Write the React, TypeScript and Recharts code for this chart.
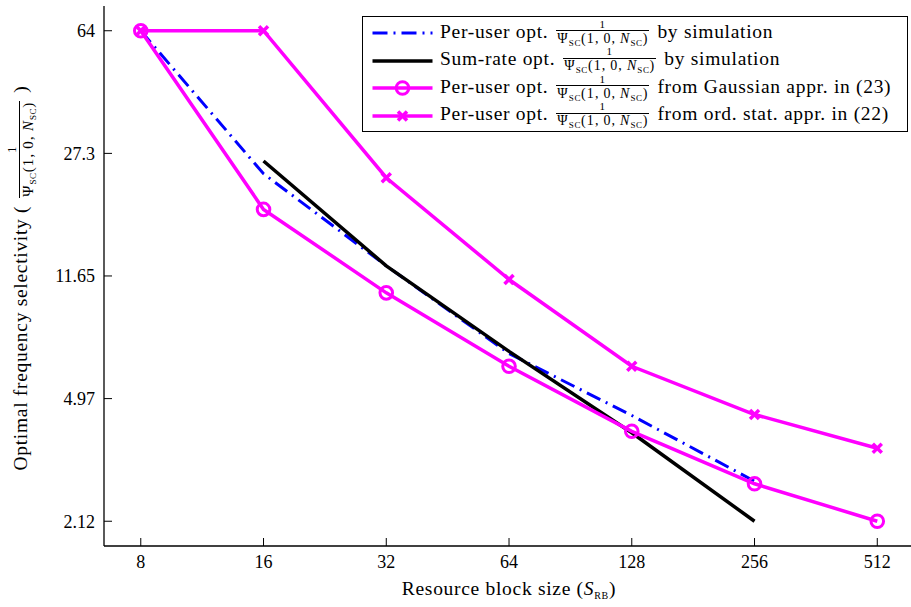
import React from 'react';
import { LineChart, Line, XAxis, YAxis, Legend } from 'recharts';

const FONT = 'Liberation Serif';

// ---- data ----
const xValues = [8, 16, 32, 64, 128, 256, 512];
const perUserSim: (number | null)[] = [64, 23.7, 12.5, 6.8, 4.42, 2.8, null];
const sumRateSim: (number | null)[] = [null, 25.9, 12.5, 6.9, 3.92, 2.12, null];
const perUserGauss: (number | null)[] = [64, 18.5, 10.36, 6.22, 3.96, 2.75, 2.12];
const perUserOrdStat: (number | null)[] = [64, 64, 23.05, 11.37, 6.22, 4.45, 3.52];
const xTicks = [8, 16, 32, 64, 128, 256, 512];
const yTicks = [2.12, 4.97, 11.65, 27.3, 64];
const xDomain = [6.5, 630];
const yDomain = [1.785, 76.0];
const legendPrefix = ['Per-user opt.', 'Sum-rate opt.', 'Per-user opt.', 'Per-user opt.'];
const legendSuffix = ['by simulation', 'by simulation', 'from Gaussian appr. in (23)', 'from ord. stat. appr. in (22)'];

const data = xValues.map((x, i) => ({
  x,
  a: perUserSim[i],
  b: sumRateSim[i],
  c: perUserGauss[i],
  d: perUserOrdStat[i],
}));

const BLUE = '#0000ff';
const MAG = '#ff00ff';

type Marker = 'none' | 'circle' | 'cross';
const series: { key: string; color: string; width: number; dash?: string; marker: Marker }[] = [
  { key: 'a', color: BLUE, width: 3, dash: '15 6 2 6', marker: 'none' },
  { key: 'b', color: '#000000', width: 3.5, marker: 'none' },
  { key: 'c', color: MAG, width: 3.5, marker: 'circle' },
  { key: 'd', color: MAG, width: 3.5, marker: 'cross' },
];

const CircleDot = (props: any) => {
  const { cx, cy } = props;
  if (cx == null || cy == null || isNaN(cx) || isNaN(cy)) return null;
  return <circle cx={cx} cy={cy} r={6.3} fill="none" stroke={MAG} strokeWidth={3} />;
};

const CrossDot = (props: any) => {
  const { cx, cy } = props;
  if (cx == null || cy == null || isNaN(cx) || isNaN(cy)) return null;
  const s = 4.5;
  return (
    <g>
      <line x1={cx - s} y1={cy - s} x2={cx + s} y2={cy + s} stroke={MAG} strokeWidth={3.5} />
      <line x1={cx - s} y1={cy + s} x2={cx + s} y2={cy - s} stroke={MAG} strokeWidth={3.5} />
    </g>
  );
};

const subStyle: React.CSSProperties = { fontSize: 9, position: 'relative', top: 3, letterSpacing: 0.6 };

const Frac = ({ num, den }: { num: number; den: number }) => (
  <span
    style={{
      display: 'inline-flex',
      flexDirection: 'column',
      alignItems: 'center',
      margin: '0 8px',
      letterSpacing: 1.1,
    }}
  >
    <span style={{ fontSize: num, lineHeight: 0.8, paddingBottom: 1.5 }}>1</span>
    <span style={{ fontSize: den, lineHeight: 0.8, borderTop: '1.5px solid #000', padding: '1.5px 1px 0' }}>
      Ψ<span style={subStyle}>SC</span>(1,&thinsp;0,&thinsp;<i>N</i>
      <span style={subStyle}>SC</span>)
    </span>
  </span>
);

const LegendBox = () => (
  <div
    style={{
      boxSizing: 'border-box',
      width: 546,
      height: 116,
      border: '1.5px solid #000',
      background: '#fff',
      paddingTop: 1,
      fontFamily: FONT,
      fontSize: 19.5,
      letterSpacing: 0.7,
      color: '#000',
      textAlign: 'left',
    }}
  >
    {series.map((s, i) => (
      <div key={s.key} style={{ height: 27.5, display: 'flex', alignItems: 'center', whiteSpace: 'nowrap' }}>
        <svg width={70} height={27.5} style={{ flex: 'none', overflow: 'visible' }}>
          <line
            x1={9.5}
            x2={69.5}
            y1={15}
            y2={15}
            stroke={s.color}
            strokeWidth={s.width}
            strokeDasharray={s.dash}
          />
          {s.marker === 'circle' && <CircleDot cx={39.5} cy={15} />}
          {s.marker === 'cross' && <CrossDot cx={39.5} cy={15} />}
        </svg>
        <span style={{ marginLeft: 7 }}>{legendPrefix[i]}</span>
        <Frac num={11} den={14} />
        <span>{legendSuffix[i]}</span>
      </div>
    ))}
  </div>
);

const YLabel = () => (
  <g transform="rotate(-90)">
    <foreignObject x={-478} y={1} width={400} height={40}>
      <div
        style={{
          width: 400,
          height: 40,
          display: 'flex',
          alignItems: 'center',
          justifyContent: 'center',
          fontFamily: FONT,
          fontSize: 19.5,
          letterSpacing: 0.7,
          whiteSpace: 'nowrap',
          color: '#000',
        }}
      >
        <span>Optimal frequency selectivity&nbsp;(</span>
        <Frac num={12} den={15} />
        <span>)</span>
      </div>
    </foreignObject>
  </g>
);

const XLabel = () => (
  <text x={509} y={595} textAnchor="middle" fontFamily={FONT} fontSize={19.5} letterSpacing={0.7} fill="#000">
    Resource block size (<tspan fontStyle="italic">S</tspan>
    <tspan dy={4} fontSize={10}>RB</tspan>
    <tspan dy={-4}>)</tspan>
  </text>
);

const tickStyle = { fontSize: 18, fill: '#000', fontFamily: FONT };
const axisLine = { stroke: '#000', strokeWidth: 1.3 };
const tickLine = { stroke: '#000', strokeWidth: 1 };

export default function App() {
  return (
    <div style={{ position: 'absolute', left: 0, top: 0, width: 911, height: 607, overflow: 'hidden', background: '#fff', fontFamily: FONT }}>
      <LineChart
        width={920}
        height={607}
        data={data}
        margin={{ top: 6, right: 6, left: 0, bottom: 0 }}
        style={{ fontFamily: FONT }}
      >
        <XAxis
          dataKey="x"
          type="number"
          scale="log"
          domain={xDomain}
          ticks={xTicks}
          allowDataOverflow
          height={61}
          tick={tickStyle}
          tickSize={-8}
          tickMargin={17}
          axisLine={axisLine}
          tickLine={tickLine}
          interval={0}
          label={<XLabel />}
        />
        <XAxis
          xAxisId="top"
          dataKey="x"
          orientation="top"
          type="number"
          scale="log"
          domain={xDomain}
          ticks={xTicks}
          allowDataOverflow
          height={0}
          tickFormatter={() => ''}
          tickSize={-8}
          axisLine={axisLine}
          tickLine={tickLine}
          interval={0}
        />
        <YAxis
          type="number"
          scale="log"
          domain={yDomain}
          ticks={yTicks}
          allowDataOverflow
          width={104}
          tick={tickStyle}
          tickSize={-8}
          tickMargin={17}
          axisLine={axisLine}
          tickLine={tickLine}
          interval={0}
          label={<YLabel />}
        />
        <YAxis
          yAxisId="right"
          orientation="right"
          type="number"
          scale="log"
          domain={yDomain}
          ticks={yTicks}
          allowDataOverflow
          width={0}
          tickFormatter={() => ''}
          tickSize={-8}
          axisLine={axisLine}
          tickLine={tickLine}
          interval={0}
        />
        <Legend
          layout="horizontal"
          verticalAlign="middle"
          align="center"
          content={<LegendBox />}
          wrapperStyle={{ position: 'absolute', left: 362, top: 16, width: 546, height: 116 }}
        />
        {series.map((s) => (
          <Line
            key={s.key}
            dataKey={s.key}
            stroke={s.color}
            strokeWidth={s.width}
            strokeDasharray={s.dash}
            type="linear"
            dot={s.marker === 'circle' ? <CircleDot /> : s.marker === 'cross' ? <CrossDot /> : false}
            activeDot={false}
            isAnimationActive={false}
            connectNulls={false}
          />
        ))}
      </LineChart>
    </div>
  );
}
